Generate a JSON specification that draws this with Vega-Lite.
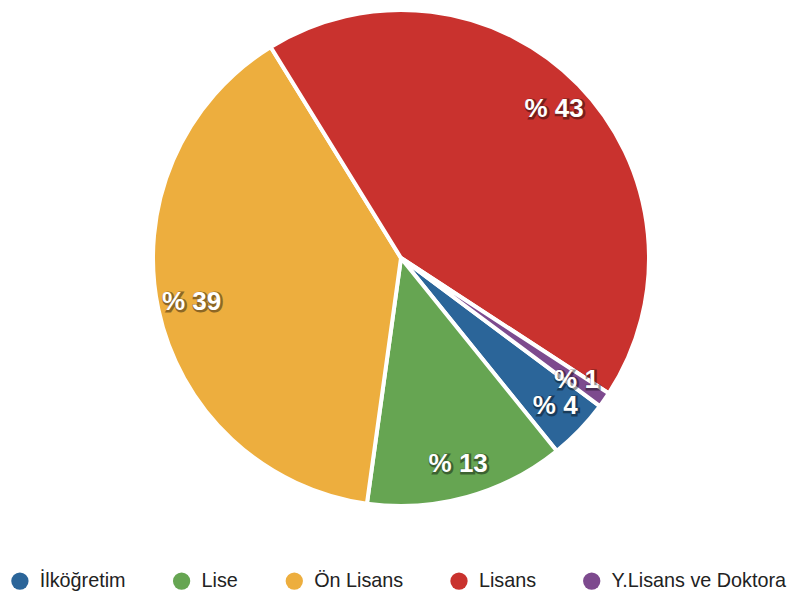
{
  "$schema": "https://vega.github.io/schema/vega-lite/v6.json",
  "width": 780,
  "height": 516,
  "padding": {"left": 10, "top": 0, "right": 0, "bottom": 0},
  "background": "white",
  "config": {"view": {"stroke": null}, "font": "Liberation Sans"},
  "data": {
    "values": [
      {"egitim": "İlköğretim", "yuzde": 4, "sira": 1, "etiket": "% 4"},
      {"egitim": "Lise", "yuzde": 13, "sira": 2, "etiket": "% 13"},
      {"egitim": "Ön Lisans", "yuzde": 39, "sira": 3, "etiket": "% 39"},
      {"egitim": "Lisans", "yuzde": 43, "sira": 4, "etiket": "% 43"},
      {"egitim": "Y.Lisans ve Doktora", "yuzde": 1, "sira": 5, "etiket": "% 1"}
    ]
  },
  "encoding": {
    "theta": {"field": "yuzde", "type": "quantitative", "stack": true, "scale": {"range": [2.2113, 8.4945]}},
    "order": {"field": "sira", "type": "quantitative"}
  },
  "layer": [
    {
      "mark": {"type": "arc", "outerRadius": 248, "stroke": "white", "strokeWidth": 4},
      "encoding": {
        "color": {
          "field": "egitim",
          "type": "nominal",
          "scale": {
            "domain": ["İlköğretim", "Lise", "Ön Lisans", "Lisans", "Y.Lisans ve Doktora"],
            "range": ["#2b6599", "#66a552", "#edae3e", "#c9322e", "#7d4a8e"]
          },
          "legend": {
            "title": null,
            "orient": "none",
            "legendX": -1,
            "legendY": 571,
            "direction": "horizontal",
            "symbolType": "circle",
            "symbolSize": 300,
            "symbolStrokeWidth": 0,
            "symbolOpacity": 1,
            "labelFontSize": 19.8,
            "labelFont": "Liberation Sans",
            "labelColor": "#222222",
            "labelOffset": 10,
            "columnPadding": 45.7,
            "labelLimit": 400
          }
        }
      }
    },
    {
      "mark": {"type": "text", "radius": 214, "font": "Liberation Sans", "fontSize": 26, "fontWeight": "bold", "fill": "black", "stroke": "black", "strokeWidth": 3, "opacity": 0.4, "dx": 1, "dy": 1, "baseline": "middle", "align": "center"},
      "encoding": {"text": {"field": "etiket"}}
    },
    {
      "mark": {"type": "text", "radius": 214, "font": "Liberation Sans", "fontSize": 26, "fontWeight": "bold", "fill": "white", "baseline": "middle", "align": "center"},
      "encoding": {"text": {"field": "etiket"}}
    }
  ]
}
